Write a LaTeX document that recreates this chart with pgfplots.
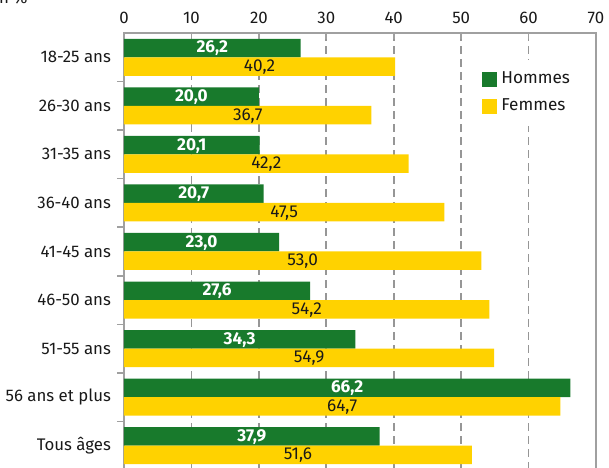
\documentclass[border=0pt]{standalone}
\usepackage{pgfplots}
\pgfplotsset{compat=1.18}
\usepackage{pgfplotstable}
\usepackage{fontspec}
\setmainfont{Fira Sans}
\definecolor{hgreen}{RGB}{24,122,44}
\definecolor{fyellow}{RGB}{255,210,0}
\definecolor{axgray}{RGB}{160,160,160}
\definecolor{gridgray}{RGB}{150,150,150}
\definecolor{txt}{RGB}{25,25,25}

\pgfplotstableread{
y h f
8 26.2 40.2
7 20.0 36.7
6 20.1 42.2
5 20.7 47.5
4 23.0 53.0
3 27.6 54.2
2 34.3 54.9
1 66.2 64.7
0 37.9 51.6
}\data

\begin{document}
\begin{tikzpicture}[font=\fontsize{8.4}{10}\selectfont]
\begin{axis}[
  scale only axis, width=236pt, height=218.5pt,
  xmin=0, xmax=70, ymin=-0.5, ymax=8.5,
  axis line style={draw=axgray, line width=0.8pt},
  xtick={0,10,...,70},
  xtick pos=top, xticklabel pos=top,
  x tick label style={yshift=1pt},
  /pgf/number format/assume math mode=true,
  ytick={0,...,8},
  yticklabels={Tous âges,56 ans et plus,51-55 ans,46-50 ans,41-45 ans,36-40 ans,31-35 ans,26-30 ans,18-25 ans},
  ytick pos=left,
  minor ytick={0.5,1.5,...,7.5},
  major tick length=3pt,
  minor tick length=3.5pt,
  xtick style={draw=axgray, line width=0.8pt},
  major y tick style={draw=none},
  minor y tick style={draw=axgray, line width=0.8pt},
  xtick align=inside,
  ytick align=outside,
  y tick label style={xshift=0pt, txt},
  x tick label style={txt},
  xmajorgrids,
  major x grid style={draw=gridgray, line width=0.8pt, dash pattern=on 4pt off 2.5pt},
  legend style={at={(axis cs:51.9,7.95)}, anchor=north west, draw=none, fill=white,
    inner xsep=4pt, inner ysep=4pt, row sep=2pt, font=\fontsize{8.6}{10}\selectfont,
    nodes={text=txt}},
  legend cell align=left,
  legend image code/.code={\fill[#1] (0pt,-3.75pt) rectangle (7.5pt,3.75pt);},
]
\addplot[xbar, fill=hgreen, draw=none, bar width=9.25pt, bar shift=4.625pt,
  visualization depends on={\thisrow{h} \as \val},
  nodes near coords,
  point meta=x,
  nodes near coords style={anchor=center, xshift={-0.5*\val*3.3714pt}, yshift=4.4pt, text=white, font=\fontsize{8.6}{10}\selectfont\bfseries,
    /pgf/number format/.cd, fixed, fixed zerofill, precision=1, use comma},
] table[x=h, y=y] {\data};
\addlegendentry{Hommes}
\addplot[xbar, fill=fyellow, draw=none, bar width=9.25pt, bar shift=-4.625pt,
  visualization depends on={\thisrow{f} \as \val},
  nodes near coords,
  point meta=x,
  nodes near coords style={anchor=center, xshift={-0.5*\val*3.3714pt}, yshift=-4.9pt, text=txt, font=\fontsize{8.6}{10}\selectfont,
    /pgf/number format/.cd, fixed, fixed zerofill, precision=1, use comma},
] table[x=f, y=y] {\data};
\addlegendentry{Femmes}
\coordinate (bl) at (rel axis cs:0,0);
\coordinate (tr) at (rel axis cs:1,1);
\coordinate (tl) at (rel axis cs:0,1);
\end{axis}
\node[anchor=base west, inner sep=0pt, text=txt] at ([xshift=-67pt, yshift=15pt]tl) {En \%};
\pgfresetboundingbox
\useasboundingbox ([xshift=-62pt, yshift=1pt]bl) rectangle ([xshift=6.5pt, yshift=16.5pt]tr);
\end{tikzpicture}
\end{document}
